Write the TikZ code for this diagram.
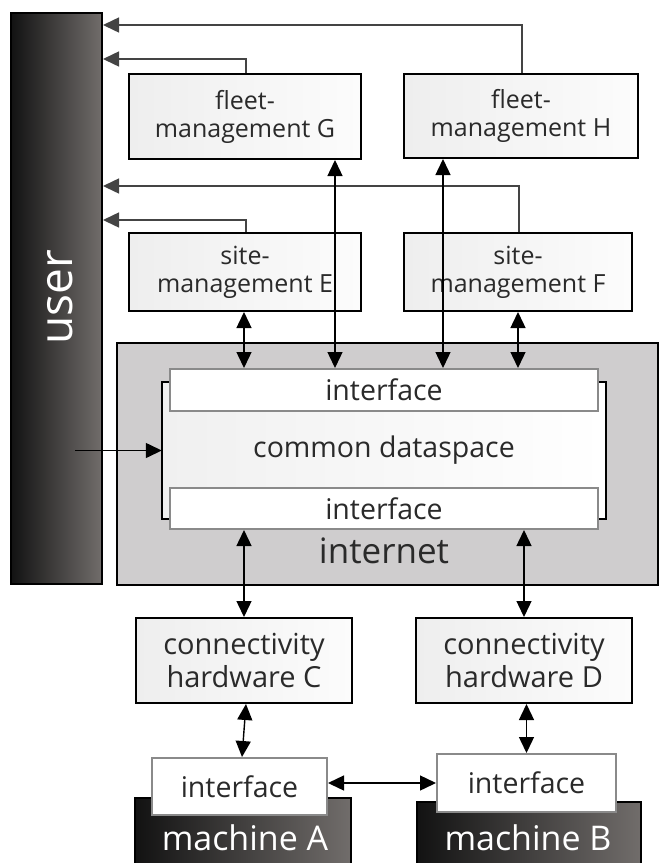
\documentclass[tikz,border=0pt]{standalone}
\usepackage{fontspec}
\setmainfont{Open Sans}
\usetikzlibrary{arrows.meta}

\definecolor{txt}{HTML}{2A2A2A}
\definecolor{boxL}{HTML}{EEEEEE}
\definecolor{boxR}{HTML}{FCFCFC}
\definecolor{dsL}{HTML}{F0F0F0}
\definecolor{netfill}{HTML}{CFCDCE}
\definecolor{ifborder}{HTML}{8A8A8A}
\definecolor{darkL}{HTML}{121212}
\definecolor{darkR}{HTML}{716D6B}
\definecolor{feedline}{HTML}{444444}

\tikzset{
  >={Triangle[length=16pt,width=15pt]},
  plainbox/.style={draw=black, line width=2pt, left color=boxL, right color=boxR,
    inner sep=0pt, align=center, text=txt},
  mgmt/.style={plainbox, font=\fontsize{25}{28}\selectfont},
  conn/.style={plainbox, font=\fontsize{29}{33}\selectfont},
  iface/.style={draw=ifborder, line width=2pt, fill=white, inner sep=0pt,
    text=txt, font=\fontsize{28.5}{32}\selectfont},
  darkbox/.style={draw=black, line width=2pt, left color=darkL, right color=darkR, inner sep=0pt},
  whitelabel/.style={text=white, inner sep=0pt},
  link/.style={line width=1.4pt, black, <->},
  feed/.style={line width=1.5pt, draw=feedline, ->},
  bracket/.style={line width=2pt, black},
}

\begin{document}
\begin{tikzpicture}[x=1pt, y=-1pt]
\path[use as bounding box] (0,0) rectangle (659,863);
\clip (0,0) rectangle (659,863);

% user column
\node[darkbox, minimum width=91pt, minimum height=571pt] (user) at (56.5,298.5) {};
\node[whitelabel, rotate=90, anchor=base, font=\fontsize{46}{50}\selectfont] (userlabel) at (72,297) {user};

% management services
\node[mgmt, minimum width=232pt, minimum height=85pt] (G) at (245,116.5) {fleet-\\management G};
\node[mgmt, minimum width=234pt, minimum height=84pt] (H) at (521,116) {fleet-\\management H};
\node[mgmt, minimum width=232pt, minimum height=78pt] (E) at (245,272) {site-\\management E};
\node[mgmt, minimum width=228pt, minimum height=78pt] (F) at (518,272) {site-\\management F};

% internet with the common dataspace
\node[draw=black, line width=2pt, fill=netfill, minimum width=541pt, minimum height=242pt] (net) at (387.5,464) {};
\node[txt, inner sep=0pt, anchor=base, font=\fontsize{35}{40}\selectfont] (netlabel) at (384,563) {internet};
\node[left color=dsL, right color=white, inner sep=0pt, minimum width=444pt, minimum height=137pt,
      text=txt, font=\fontsize{28.5}{32}\selectfont] (ds) at (384,450.5) {common dataspace};
\draw[bracket] ([xshift=8pt]ds.north west) -- (ds.north west) -- (ds.south west) -- ([xshift=8pt]ds.south west);
\draw[bracket] ([xshift=-8pt]ds.north east) -- (ds.north east) -- (ds.south east) -- ([xshift=-8pt]ds.south east);
\node[iface, minimum width=428pt, minimum height=42pt] (itop) at (384,390) {interface};
\node[iface, minimum width=428pt, minimum height=41pt] (ibot) at (384,508.5) {interface};

% connectivity hardware
\node[conn, minimum width=216pt, minimum height=85pt] (C) at (244,660.5) {connectivity\\hardware C};
\node[conn, minimum width=216pt, minimum height=85pt] (D) at (524,660.5) {connectivity\\hardware D};

% machines with their interfaces
\node[darkbox, minimum width=216pt, minimum height=90pt] (mA) at (243,843) {};
\node[whitelabel, anchor=base, font=\fontsize{34}{38}\selectfont] (mAlabel) at (245,850) {machine A};
\node[darkbox, minimum width=224pt, minimum height=90pt] (mB) at (529,847) {};
\node[whitelabel, anchor=base, font=\fontsize{34}{38}\selectfont] (mBlabel) at (528,850) {machine B};
\node[iface, minimum width=175pt, minimum height=57pt] (ifA) at (239.5,786.5) {interface};
\node[iface, minimum width=179pt, minimum height=58pt] (ifB) at (526.5,783) {interface};

% reports to the user
\coordinate (yH) at (0,25);
\coordinate (yG) at (0,59);
\coordinate (yF) at (0,186);
\coordinate (yE) at (0,220);
\draw[feed] ([xshift=1pt]H.north) |- (yH -| user.east);
\draw[feed] ([xshift=1pt]G.north) |- (yG -| user.east);
\draw[feed] ([xshift=1pt]F.north) |- (yF -| user.east);
\draw[feed] ([xshift=1pt]E.north) |- (yE -| user.east);

% user input into the dataspace
\coordinate (uin) at (75,450.5);
\draw[line width=1.4pt, ->] (uin) -- (ds.west);

% links between services and the dataspace
\draw[link] ([xshift=-1pt]E.south) -- ([xshift=-1pt]E.south |- itop.north);
\draw[link] ([xshift=90pt]G.south) -- ([xshift=90pt]G.south |- itop.north);
\draw[link] ([xshift=-78pt]H.south) -- ([xshift=-78pt]H.south |- itop.north);
\draw[link] (F.south) -- (F.south |- itop.north);

% links between the dataspace and the hardware
\draw[link] (ibot.south -| C.north) -- (C.north);
\draw[link] (ibot.south -| D.north) -- (D.north);

% links between the hardware and the machines
\draw[link] ([xshift=2pt]C.south) -- ([xshift=2.5pt]ifA.north);
\draw[link] (ifB.north |- D.south) -- (ifB.north);
\draw[link] (ifA.east |- ifB.west) -- (ifB.west);
\end{tikzpicture}
\end{document}
